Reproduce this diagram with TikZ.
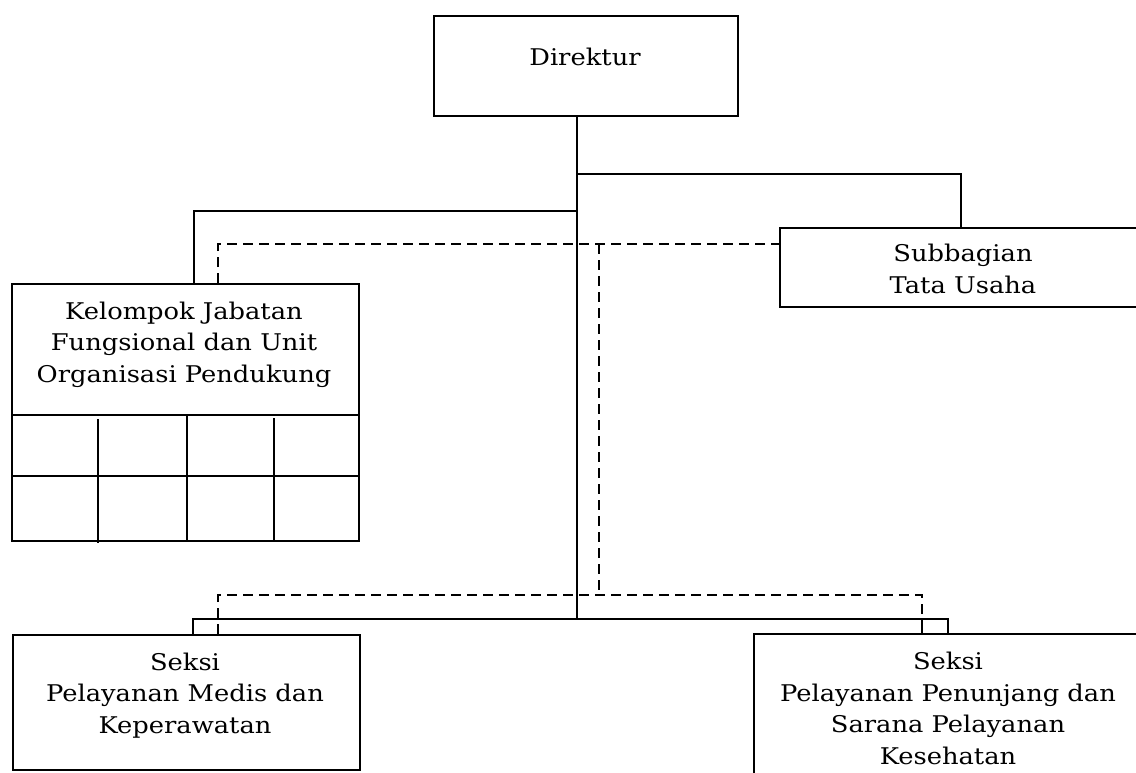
\documentclass[tikz,border=0pt]{standalone}
\usepackage{fontspec}
\setmainfont{DejaVu Serif}[FakeStretch=1.12]
\begin{document}
\begin{tikzpicture}[x=1pt,y=-1pt,
  box/.style={draw, line width=2pt, anchor=north west, inner sep=0pt},
  lbl/.style={align=center, anchor=base, inner sep=0pt, font=\fontsize{23}{31.5}\selectfont},
  conn/.style={line width=1.9pt},
  dconn/.style={line width=1.9pt, dash pattern=on 10pt off 6pt},
  grid/.style={line width=1.9pt}]
\useasboundingbox (0,0) rectangle (1136,772);
% boxes
\node[box, minimum width=304pt, minimum height=100pt] (dir) at (433,15) {};
\node[box, minimum width=380pt, minimum height=79pt] (sub) at (779,227) {};
\node[box, minimum width=347pt, minimum height=257pt] (kel) at (11,283) {};
\node[box, minimum width=347pt, minimum height=135pt] (smed) at (12,634) {};
\node[box, minimum width=400pt, minimum height=150pt] (spen) at (753,633) {};
% labels (anchored at the baseline of the last line)
\node[lbl] (dirT) at (585,65) {Direktur};
\node[lbl] (subT) at (963,293) {Subbagian\\Tata Usaha};
\node[lbl] (kelT) at (184,382) {Kelompok Jabatan\\Fungsional dan Unit\\Organisasi Pendukung};
\node[lbl] (smedT) at (185,733) {Seksi\\Pelayanan Medis dan\\Keperawatan};
\node[lbl] (spenT) at (948,764) {Seksi\\Pelayanan Penunjang dan\\Sarana Pelayanan\\Kesehatan};
% grid inside Kelompok box
\coordinate (g1) at (11,415);
\coordinate (g2) at (11,476);
\draw[grid] (g1) -- (g1 -| kel.east);
\draw[grid] (g2) -- (g2 -| kel.east);
\coordinate (c1) at (98,419);
\coordinate (c2) at (187,415);
\coordinate (c3) at (274,418);
\draw[grid] (c1) -- ++(0,124);
\draw[grid] (c2) -- (c2 |- kel.south);
\draw[grid] (c3) -- (c3 |- kel.south);
% junction coordinates
\coordinate (jm) at (577,619);
\coordinate (jt) at (577,174);
\coordinate (jl) at (577,211);
\coordinate (subc) at (961,174);
\coordinate (kelc) at (194,211);
\coordinate (smc) at (193,619);
\coordinate (spc) at (948,619);
\coordinate (spd) at (922,619);
% solid connectors
\draw[conn] (dir.south -| jm) -- (jm);
\draw[conn] (jt) -- (subc) -- (subc |- sub.north);
\draw[conn] (jl) -- (kelc) -- (kelc |- kel.north);
\draw[conn] (smc |- smed.north) -- (smc) -- (spc) -- (spc |- spen.north);
\draw[conn] (spd) -- (spd |- spen.north);
% dashed connectors
\coordinate (dk) at (218,244);
\coordinate (dv) at (599,244);
\coordinate (db) at (599,595);
\coordinate (dl) at (218,595);
\coordinate (dr) at (922,595);
\draw[dconn] (dk |- kel.north) -- (dk) -- (dk -| sub.west);
\draw[dconn] (dv) -- (db);
\draw[dconn] (dl |- smed.north) -- (dl) -- (dr) -- (dr |- spen.north);
\end{tikzpicture}
\end{document}
